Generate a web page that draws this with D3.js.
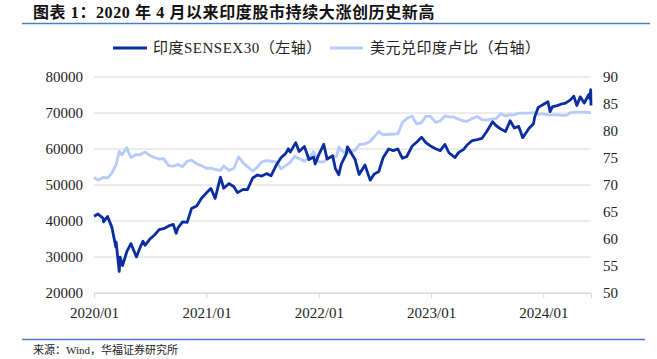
<!DOCTYPE html>
<html>
<head>
<meta charset="utf-8">
<script src="https://cdn.jsdelivr.net/npm/d3@7"></script>
<style>
  body { margin: 0; background: #fff; }
  text { font-family: "Liberation Serif", "Noto Sans CJK SC", serif; }
</style>
</head>
<body>
<div class="chart"></div>
<script>
    /*Data*/

    const sensexDates = ["2020-01-01","2020-01-14","2020-01-31","2020-02-01","2020-02-14","2020-02-28","2020-03-12","2020-03-13","2020-03-23","2020-03-26",
    "2020-04-03","2020-04-17","2020-04-30","2020-05-18","2020-05-29","2020-06-08","2020-06-15","2020-06-30","2020-07-15","2020-07-31",
    "2020-08-14","2020-08-31","2020-09-15","2020-09-24","2020-09-30","2020-10-15","2020-10-30","2020-11-13","2020-11-30","2020-12-15",
    "2020-12-31","2021-01-15","2021-01-29","2021-02-15","2021-02-26","2021-03-15","2021-03-31","2021-04-12","2021-04-30","2021-05-14",
    "2021-05-31","2021-06-15","2021-06-30","2021-07-15","2021-07-30","2021-08-16","2021-08-31","2021-09-15","2021-09-24","2021-09-30",
    "2021-10-18","2021-10-29","2021-11-15","2021-11-30","2021-12-15","2021-12-20","2021-12-31","2022-01-17","2022-01-28","2022-02-15",
    "2022-02-24","2022-03-07","2022-03-15","2022-03-31","2022-04-04","2022-04-29","2022-05-12","2022-05-31","2022-06-17","2022-06-30",
    "2022-07-15","2022-07-29","2022-08-16","2022-08-31","2022-09-15","2022-09-30","2022-10-14","2022-10-31","2022-11-15","2022-12-01",
    "2022-12-15","2022-12-30","2023-01-16","2023-01-31","2023-02-15","2023-02-28","2023-03-20","2023-03-31","2023-04-17","2023-04-28",
    "2023-05-15","2023-05-31","2023-06-15","2023-06-30","2023-07-20","2023-07-31","2023-08-16","2023-08-31","2023-09-15","2023-09-29",
    "2023-10-13","2023-10-26","2023-11-15","2023-11-30","2023-12-04","2023-12-15","2023-12-29","2024-01-16","2024-01-23","2024-01-31",
    "2024-02-15","2024-02-29","2024-03-13","2024-03-29","2024-04-09","2024-04-19","2024-04-30","2024-05-13","2024-05-28","2024-05-31",
    "2024-06-03","2024-06-04"];
    const sensex = [41300,41950,40720,39740,41260,38300,32780,34100,25980,29950,
    27590,31590,33720,30030,32420,34370,33230,34920,36050,37610,
    37880,38630,39040,36550,38070,39730,39610,43440,44150,46260,
    47750,49030,46290,52150,49100,50400,49510,47880,48780,48730,
    51940,52770,52480,53160,52590,55580,57550,58720,60050,59130,
    61770,59310,60720,57060,57790,55820,58250,61310,57200,58140,
    54530,52840,55780,58570,60610,57060,52930,55570,51360,53020,
    53760,57570,60000,59540,60000,57430,57920,60750,61870,63280,
    61800,60840,60090,59550,61280,58960,57630,58990,59910,61110,
    62350,62620,62920,64720,67570,66530,65540,64830,67840,65830,
    66280,63150,65680,66990,68870,71480,72240,73130,70370,71750,
    72050,72500,72760,73650,74680,72090,74480,72780,75170,73960,
    76470,72080];

    const inrDates = ["2020-01-01","2020-01-15","2020-01-31","2020-02-14","2020-02-28","2020-03-13","2020-03-23","2020-04-01","2020-04-16","2020-04-30",
    "2020-05-15","2020-05-29","2020-06-15","2020-06-30","2020-07-15","2020-07-31","2020-08-14","2020-08-31","2020-09-15","2020-09-30",
    "2020-10-15","2020-10-30","2020-11-13","2020-11-30","2020-12-15","2020-12-31","2021-01-15","2021-01-29","2021-02-15","2021-02-26",
    "2021-03-15","2021-03-31","2021-04-15","2021-04-30","2021-05-14","2021-05-31","2021-06-15","2021-06-30","2021-07-15","2021-07-30",
    "2021-08-16","2021-08-31","2021-09-15","2021-09-30","2021-10-14","2021-10-29","2021-11-15","2021-11-30","2021-12-15","2021-12-31",
    "2022-01-17","2022-01-31","2022-02-15","2022-02-28","2022-03-07","2022-03-15","2022-03-31","2022-04-15","2022-04-29","2022-05-13",
    "2022-05-31","2022-06-15","2022-06-30","2022-07-15","2022-07-29","2022-08-16","2022-08-31","2022-09-15","2022-09-30","2022-10-14",
    "2022-10-31","2022-11-15","2022-11-30","2022-12-15","2022-12-30","2023-01-16","2023-01-31","2023-02-15","2023-02-28","2023-03-15",
    "2023-03-31","2023-04-14","2023-04-28","2023-05-15","2023-05-31","2023-06-15","2023-06-30","2023-07-14","2023-07-31","2023-08-16",
    "2023-08-31","2023-09-15","2023-09-29","2023-10-13","2023-10-31","2023-11-15","2023-11-30","2023-12-15","2023-12-29","2024-01-15",
    "2024-01-31","2024-02-15","2024-02-29","2024-03-15","2024-03-29","2024-04-15","2024-04-30","2024-05-15","2024-05-31","2024-06-04"];
    const inr = [71.4,70.9,71.4,71.3,72.2,73.8,76.2,75.6,76.9,75.1,
    75.6,75.6,76.1,75.5,75.1,74.8,74.9,73.6,73.5,73.8,
    73.4,74.4,74.6,73.9,73.6,73.1,73.1,72.9,72.7,73.5,
    72.7,73.1,75.2,74.1,73.4,72.6,73.3,74.3,74.5,74.4,
    74.3,73.0,73.6,74.2,75.3,74.9,74.4,75.0,76.2,74.3,
    74.3,75.0,75.2,75.3,77.0,76.4,75.8,76.2,76.4,77.5,
    77.6,78.0,78.9,79.9,79.3,79.4,79.4,79.5,81.6,82.3,
    82.8,81.3,81.5,82.7,82.7,81.6,81.9,82.8,82.6,82.6,
    82.2,81.9,81.8,82.3,82.7,82.1,82.0,82.2,82.3,83.2,
    82.8,83.0,83.0,83.3,83.3,83.3,83.4,83.1,83.2,83.0,
    83.0,83.0,82.9,82.9,83.4,83.5,83.5,83.5,83.4,83.4];

    const leftTicks = [20000,30000,40000,50000,60000,70000,80000];
    const rightTicks = [50,55,60,65,70,75,80,85,90];
    const xTicks = ["2020-01-01","2021-01-01","2022-01-01","2023-01-01","2024-01-01"];

    const titleText = "图表 1：2020 年 4 月以来印度股市持续大涨创历史新高";
    const sourceText = "来源：Wind，华福证券研究所";
    const seriesNames = ["印度SENSEX30（左轴）", "美元兑印度卢比（右轴）"];
    const colors = ["#0a2da0", "#b7cbf8"];

    /*Create Chart Area*/

    const W = 657, H = 359;
    let margin = {top: 77, bottom: 66, left: 94, right: 66};
    const width = W - margin.left - margin.right,
    height = H - margin.top - margin.bottom;

    const root = d3.select(".chart").append("svg")
    .attr("width", W)
    .attr("height", H);

    const svg = root.append("g")
    .attr("transform", "translate(" + margin.left + "," + margin.top + ")");

    const parse = d3.timeParse("%Y-%m-%d");

    /*Scales*/

    const xScale = d3.scaleTime()
    .domain([parse("2020-01-01"), parse("2024-06-04")])
    .range([0, width]);
    const yLeft = d3.scaleLinear().domain([20000, 80000]).range([height, 0]);
    const yRight = d3.scaleLinear().domain([50, 90]).range([height, 0]);

    /*Grid*/

    svg.append("g")
    .selectAll("line")
    .data(leftTicks)
    .enter()
    .append("line")
    .attr("x1", 0).attr("x2", width)
    .attr("y1", d => yLeft(d)).attr("y2", d => yLeft(d))
    .attr("stroke", "#d9d9d9")
    .attr("stroke-width", 1);

    /*Axes*/

    const xAxis = d3.axisBottom(xScale)
    .tickValues(xTicks.map(parse))
    .tickFormat(d3.timeFormat("%Y/%m"))
    .tickSize(5);

    const gx = svg.append("g")
    .attr("transform", `translate(0, ${height})`)
    .call(xAxis);
    gx.select(".domain").attr("stroke", "#d9d9d9");
    gx.selectAll(".tick line").attr("stroke", "#d9d9d9");
    gx.selectAll("text")
    .attr("font-size", 15)
    .attr("fill", "#222")
    .attr("dy", "1.1em")
    .style("font-family", "Liberation Serif");

    const gl = svg.append("g")
    .call(d3.axisLeft(yLeft).tickValues(leftTicks).tickFormat(d3.format("d")).tickSize(0).tickPadding(11));
    gl.select(".domain").remove();
    gl.selectAll("text").attr("font-size", 15).attr("fill", "#222")
    .style("font-family", "Liberation Serif");

    const gr = svg.append("g")
    .attr("transform", `translate(${width}, 0)`)
    .call(d3.axisRight(yRight).tickValues(rightTicks).tickSize(0).tickPadding(12));
    gr.select(".domain").remove();
    gr.selectAll("text").attr("font-size", 15).attr("fill", "#222")
    .style("font-family", "Liberation Serif");

    /*Lines*/

    const inrData = inrDates.map((d, i) => ({date: parse(d), value: inr[i]}));
    const sensexData = sensexDates.map((d, i) => ({date: parse(d), value: sensex[i]}));

    svg.append("path")
    .datum(inrData)
    .attr("fill", "none")
    .attr("stroke", colors[1])
    .attr("stroke-width", 2.8)
    .attr("stroke-linejoin", "round")
    .attr("d", d3.line().x(d => xScale(d.date)).y(d => yRight(d.value)));

    svg.append("path")
    .datum(sensexData)
    .attr("fill", "none")
    .attr("stroke", colors[0])
    .attr("stroke-width", 2.8)
    .attr("stroke-linejoin", "round")
    .attr("d", d3.line().x(d => xScale(d.date)).y(d => yLeft(d.value)));

    /*Title, legend, source*/

    root.append("text")
    .attr("x", 33).attr("y", 18)
    .attr("font-size", 16)
    .attr("font-weight", "bold")
    .attr("letter-spacing", 0.6)
    .attr("fill", "#111")
    .text(titleText);

    root.append("line")
    .attr("x1", 22).attr("x2", 650)
    .attr("y1", 23.5).attr("y2", 23.5)
    .attr("stroke", "#4f7ac7").attr("stroke-width", 1.5);

    const legendX = [[113, 147, 153], [330, 363, 370]];
    seriesNames.forEach((name, i) => {
        root.append("line")
        .attr("x1", legendX[i][0]).attr("x2", legendX[i][1])
        .attr("y1", 48).attr("y2", 48)
        .attr("stroke", colors[i]).attr("stroke-width", 2.8);
        root.append("text")
        .attr("x", legendX[i][2]).attr("y", 53)
        .attr("font-size", 15)
        .attr("letter-spacing", 0.5)
        .attr("fill", "#222")
        .text(name);
    });

    root.append("line")
    .attr("x1", 22).attr("x2", 645)
    .attr("y1", 339.5).attr("y2", 339.5)
    .attr("stroke", "#4f7ac7").attr("stroke-width", 1.5);

    root.append("text")
    .attr("x", 33).attr("y", 354)
    .attr("font-size", 11)
    .attr("fill", "#222")
    .text(sourceText);
</script>
</body>
</html>
